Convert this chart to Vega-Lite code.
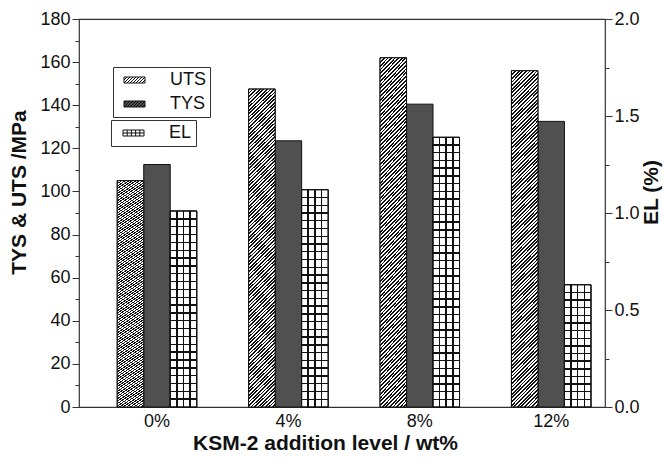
{
  "$schema": "https://vega.github.io/schema/vega-lite/v6.json",
  "width": 526,
  "height": 388,
  "autosize": {"type": "none"},
  "padding": {"left": 79, "top": 19, "right": 60, "bottom": 51},
  "background": "white",
  "config": {
    "font": "Liberation Sans",
    "view": {"stroke": "#333333", "strokeWidth": 1.2},
    "axis": {"labelFont": "Liberation Sans", "labelFontSize": 18, "labelColor": "#111111", "titleFont": "Liberation Sans", "titleFontSize": 21, "titleFontWeight": "bold", "titleColor": "#111111", "domainColor": "#333333", "tickColor": "#333333", "grid": false},
    "legend": {"labelFont": "Liberation Sans", "labelFontSize": 18, "labelColor": "#111111"}
  },
  "data": {
    "values": [
      {"level": "0%", "series": "UTS", "value": 105},
      {"level": "0%", "series": "TYS", "value": 112.5},
      {"level": "0%", "series": "EL", "value": 1.01},
      {"level": "4%", "series": "UTS", "value": 147.5},
      {"level": "4%", "series": "TYS", "value": 123.5},
      {"level": "4%", "series": "EL", "value": 1.12},
      {"level": "8%", "series": "UTS", "value": 162},
      {"level": "8%", "series": "TYS", "value": 140.5},
      {"level": "8%", "series": "EL", "value": 1.39},
      {"level": "12%", "series": "UTS", "value": 156},
      {"level": "12%", "series": "TYS", "value": 132.5},
      {"level": "12%", "series": "EL", "value": 0.63}
    ]
  },
  "encoding": {
    "x": {
      "field": "level", "type": "nominal", "sort": ["0%", "4%", "8%", "12%"],
      "scale": {"paddingInner": 0.395, "paddingOuter": 0.199, "align": 0.731},
      "axis": {"title": "KSM-2 addition level / wt%", "labelAngle": 0, "ticks": false, "labelPadding": 5, "titlePadding": 2, "titleX": 246, "domain": false}
    },
    "xOffset": {"field": "series", "type": "nominal", "scale": {"domain": ["UTS", "TYS", "EL"], "paddingInner": 0, "paddingOuter": 0}}
  },
  "layer": [
    {
      "encoding": {
        "y": {
          "field": "value", "type": "quantitative",
          "scale": {"domain": [0, 180], "nice": false},
          "axis": {
            "title": "TYS & UTS /MPa", "orient": "left",
            "values": [0, 10, 20, 30, 40, 50, 60, 70, 80, 90, 100, 110, 120, 130, 140, 150, 160, 170, 180],
            "labelExpr": "datum.value % 20 === 0 ? datum.label : ''",
            "tickSize": {"condition": {"test": "datum.value % 20 !== 0", "value": 4}, "value": 7},
            "labelPadding": 2, "titlePadding": 10, "titleY": 173, "domain": false
          }
        }
      },
      "layer": [
        {
          "transform": [{"filter": "datum.series !== 'EL'"}],
          "mark": {"type": "bar", "stroke": "#111111", "strokeWidth": 1},
          "encoding": {
            "fill": {
              "field": "series", "type": "nominal",
              "scale": {"domain": ["UTS", "TYS"], "range": ["#ffffff", "#505050"]},
              "legend": {
                "title": null, "orient": "none", "legendX": 34, "legendY": 48, "padding": 4, "symbolOffset": 1, "rowPadding": 6,
                "strokeColor": "#333333", "fillColor": "white",
                "symbolType": "M-0.5,-0.5H3V0.5H-0.5Z M-0.5,0L0,-0.5 M-0.5,0.5L0.5,-0.5 M0,0.5L1,-0.5 M0.5,0.5L1.5,-0.5 M1,0.5L2,-0.5 M1.5,0.5L2.5,-0.5 M2,0.5L3,-0.5 M2.5,0.5L3,0",
                "symbolSize": 144, "symbolStrokeColor": "#111111", "symbolStrokeWidth": 1, "symbolOpacity": 1,
                "labelOffset": 34, "labelExpr": "datum.label + '   '"
              }
            }
          }
        },
        {
          "transform": [{"filter": "datum.series === 'UTS'"}],
          "mark": {
            "type": "bar", "stroke": "#111111", "strokeWidth": 1,
            "fill": {
              "gradient": "linear", "x1": 0, "y1": 0, "x2": 0.086, "y2": 1.073,
              "stops": [
{"offset":0,"color":"#111"},{"offset":0.005,"color":"#111"},{"offset":0.005,"color":"#fff"},{"offset":0.01,"color":"#fff"},
{"offset":0.01,"color":"#111"},{"offset":0.015,"color":"#111"},{"offset":0.015,"color":"#fff"},{"offset":0.02,"color":"#fff"},
{"offset":0.02,"color":"#111"},{"offset":0.025,"color":"#111"},{"offset":0.025,"color":"#fff"},{"offset":0.03,"color":"#fff"},
{"offset":0.03,"color":"#111"},{"offset":0.035,"color":"#111"},{"offset":0.035,"color":"#fff"},{"offset":0.04,"color":"#fff"},
{"offset":0.04,"color":"#111"},{"offset":0.045,"color":"#111"},{"offset":0.045,"color":"#fff"},{"offset":0.05,"color":"#fff"},
{"offset":0.05,"color":"#111"},{"offset":0.055,"color":"#111"},{"offset":0.055,"color":"#fff"},{"offset":0.06,"color":"#fff"},
{"offset":0.06,"color":"#111"},{"offset":0.065,"color":"#111"},{"offset":0.065,"color":"#fff"},{"offset":0.07,"color":"#fff"},
{"offset":0.07,"color":"#111"},{"offset":0.075,"color":"#111"},{"offset":0.075,"color":"#fff"},{"offset":0.08,"color":"#fff"},
{"offset":0.08,"color":"#111"},{"offset":0.085,"color":"#111"},{"offset":0.085,"color":"#fff"},{"offset":0.09,"color":"#fff"},
{"offset":0.09,"color":"#111"},{"offset":0.095,"color":"#111"},{"offset":0.095,"color":"#fff"},{"offset":0.1,"color":"#fff"},
{"offset":0.1,"color":"#111"},{"offset":0.105,"color":"#111"},{"offset":0.105,"color":"#fff"},{"offset":0.11,"color":"#fff"},
{"offset":0.11,"color":"#111"},{"offset":0.115,"color":"#111"},{"offset":0.115,"color":"#fff"},{"offset":0.12,"color":"#fff"},
{"offset":0.12,"color":"#111"},{"offset":0.125,"color":"#111"},{"offset":0.125,"color":"#fff"},{"offset":0.13,"color":"#fff"},
{"offset":0.13,"color":"#111"},{"offset":0.135,"color":"#111"},{"offset":0.135,"color":"#fff"},{"offset":0.14,"color":"#fff"},
{"offset":0.14,"color":"#111"},{"offset":0.145,"color":"#111"},{"offset":0.145,"color":"#fff"},{"offset":0.15,"color":"#fff"},
{"offset":0.15,"color":"#111"},{"offset":0.155,"color":"#111"},{"offset":0.155,"color":"#fff"},{"offset":0.16,"color":"#fff"},
{"offset":0.16,"color":"#111"},{"offset":0.165,"color":"#111"},{"offset":0.165,"color":"#fff"},{"offset":0.17,"color":"#fff"},
{"offset":0.17,"color":"#111"},{"offset":0.175,"color":"#111"},{"offset":0.175,"color":"#fff"},{"offset":0.18,"color":"#fff"},
{"offset":0.18,"color":"#111"},{"offset":0.185,"color":"#111"},{"offset":0.185,"color":"#fff"},{"offset":0.19,"color":"#fff"},
{"offset":0.19,"color":"#111"},{"offset":0.195,"color":"#111"},{"offset":0.195,"color":"#fff"},{"offset":0.2,"color":"#fff"},
{"offset":0.2,"color":"#111"},{"offset":0.205,"color":"#111"},{"offset":0.205,"color":"#fff"},{"offset":0.21,"color":"#fff"},
{"offset":0.21,"color":"#111"},{"offset":0.215,"color":"#111"},{"offset":0.215,"color":"#fff"},{"offset":0.22,"color":"#fff"},
{"offset":0.22,"color":"#111"},{"offset":0.225,"color":"#111"},{"offset":0.225,"color":"#fff"},{"offset":0.23,"color":"#fff"},
{"offset":0.23,"color":"#111"},{"offset":0.235,"color":"#111"},{"offset":0.235,"color":"#fff"},{"offset":0.24,"color":"#fff"},
{"offset":0.24,"color":"#111"},{"offset":0.245,"color":"#111"},{"offset":0.245,"color":"#fff"},{"offset":0.25,"color":"#fff"},
{"offset":0.25,"color":"#111"},{"offset":0.255,"color":"#111"},{"offset":0.255,"color":"#fff"},{"offset":0.26,"color":"#fff"},
{"offset":0.26,"color":"#111"},{"offset":0.265,"color":"#111"},{"offset":0.265,"color":"#fff"},{"offset":0.27,"color":"#fff"},
{"offset":0.27,"color":"#111"},{"offset":0.275,"color":"#111"},{"offset":0.275,"color":"#fff"},{"offset":0.28,"color":"#fff"},
{"offset":0.28,"color":"#111"},{"offset":0.285,"color":"#111"},{"offset":0.285,"color":"#fff"},{"offset":0.29,"color":"#fff"},
{"offset":0.29,"color":"#111"},{"offset":0.295,"color":"#111"},{"offset":0.295,"color":"#fff"},{"offset":0.3,"color":"#fff"},
{"offset":0.3,"color":"#111"},{"offset":0.305,"color":"#111"},{"offset":0.305,"color":"#fff"},{"offset":0.31,"color":"#fff"},
{"offset":0.31,"color":"#111"},{"offset":0.315,"color":"#111"},{"offset":0.315,"color":"#fff"},{"offset":0.32,"color":"#fff"},
{"offset":0.32,"color":"#111"},{"offset":0.325,"color":"#111"},{"offset":0.325,"color":"#fff"},{"offset":0.33,"color":"#fff"},
{"offset":0.33,"color":"#111"},{"offset":0.335,"color":"#111"},{"offset":0.335,"color":"#fff"},{"offset":0.34,"color":"#fff"},
{"offset":0.34,"color":"#111"},{"offset":0.345,"color":"#111"},{"offset":0.345,"color":"#fff"},{"offset":0.35,"color":"#fff"},
{"offset":0.35,"color":"#111"},{"offset":0.355,"color":"#111"},{"offset":0.355,"color":"#fff"},{"offset":0.36,"color":"#fff"},
{"offset":0.36,"color":"#111"},{"offset":0.365,"color":"#111"},{"offset":0.365,"color":"#fff"},{"offset":0.37,"color":"#fff"},
{"offset":0.37,"color":"#111"},{"offset":0.375,"color":"#111"},{"offset":0.375,"color":"#fff"},{"offset":0.38,"color":"#fff"},
{"offset":0.38,"color":"#111"},{"offset":0.385,"color":"#111"},{"offset":0.385,"color":"#fff"},{"offset":0.39,"color":"#fff"},
{"offset":0.39,"color":"#111"},{"offset":0.395,"color":"#111"},{"offset":0.395,"color":"#fff"},{"offset":0.4,"color":"#fff"},
{"offset":0.4,"color":"#111"},{"offset":0.405,"color":"#111"},{"offset":0.405,"color":"#fff"},{"offset":0.41,"color":"#fff"},
{"offset":0.41,"color":"#111"},{"offset":0.415,"color":"#111"},{"offset":0.415,"color":"#fff"},{"offset":0.42,"color":"#fff"},
{"offset":0.42,"color":"#111"},{"offset":0.425,"color":"#111"},{"offset":0.425,"color":"#fff"},{"offset":0.43,"color":"#fff"},
{"offset":0.43,"color":"#111"},{"offset":0.435,"color":"#111"},{"offset":0.435,"color":"#fff"},{"offset":0.44,"color":"#fff"},
{"offset":0.44,"color":"#111"},{"offset":0.445,"color":"#111"},{"offset":0.445,"color":"#fff"},{"offset":0.45,"color":"#fff"},
{"offset":0.45,"color":"#111"},{"offset":0.455,"color":"#111"},{"offset":0.455,"color":"#fff"},{"offset":0.46,"color":"#fff"},
{"offset":0.46,"color":"#111"},{"offset":0.465,"color":"#111"},{"offset":0.465,"color":"#fff"},{"offset":0.47,"color":"#fff"},
{"offset":0.47,"color":"#111"},{"offset":0.475,"color":"#111"},{"offset":0.475,"color":"#fff"},{"offset":0.48,"color":"#fff"},
{"offset":0.48,"color":"#111"},{"offset":0.485,"color":"#111"},{"offset":0.485,"color":"#fff"},{"offset":0.49,"color":"#fff"},
{"offset":0.49,"color":"#111"},{"offset":0.495,"color":"#111"},{"offset":0.495,"color":"#fff"},{"offset":0.5,"color":"#fff"},
{"offset":0.5,"color":"#111"},{"offset":0.505,"color":"#111"},{"offset":0.505,"color":"#fff"},{"offset":0.51,"color":"#fff"},
{"offset":0.51,"color":"#111"},{"offset":0.515,"color":"#111"},{"offset":0.515,"color":"#fff"},{"offset":0.52,"color":"#fff"},
{"offset":0.52,"color":"#111"},{"offset":0.525,"color":"#111"},{"offset":0.525,"color":"#fff"},{"offset":0.53,"color":"#fff"},
{"offset":0.53,"color":"#111"},{"offset":0.535,"color":"#111"},{"offset":0.535,"color":"#fff"},{"offset":0.54,"color":"#fff"},
{"offset":0.54,"color":"#111"},{"offset":0.545,"color":"#111"},{"offset":0.545,"color":"#fff"},{"offset":0.55,"color":"#fff"},
{"offset":0.55,"color":"#111"},{"offset":0.555,"color":"#111"},{"offset":0.555,"color":"#fff"},{"offset":0.56,"color":"#fff"},
{"offset":0.56,"color":"#111"},{"offset":0.565,"color":"#111"},{"offset":0.565,"color":"#fff"},{"offset":0.57,"color":"#fff"},
{"offset":0.57,"color":"#111"},{"offset":0.575,"color":"#111"},{"offset":0.575,"color":"#fff"},{"offset":0.58,"color":"#fff"},
{"offset":0.58,"color":"#111"},{"offset":0.585,"color":"#111"},{"offset":0.585,"color":"#fff"},{"offset":0.59,"color":"#fff"},
{"offset":0.59,"color":"#111"},{"offset":0.595,"color":"#111"},{"offset":0.595,"color":"#fff"},{"offset":0.6,"color":"#fff"},
{"offset":0.6,"color":"#111"},{"offset":0.605,"color":"#111"},{"offset":0.605,"color":"#fff"},{"offset":0.61,"color":"#fff"},
{"offset":0.61,"color":"#111"},{"offset":0.615,"color":"#111"},{"offset":0.615,"color":"#fff"},{"offset":0.62,"color":"#fff"},
{"offset":0.62,"color":"#111"},{"offset":0.625,"color":"#111"},{"offset":0.625,"color":"#fff"},{"offset":0.63,"color":"#fff"},
{"offset":0.63,"color":"#111"},{"offset":0.635,"color":"#111"},{"offset":0.635,"color":"#fff"},{"offset":0.64,"color":"#fff"},
{"offset":0.64,"color":"#111"},{"offset":0.645,"color":"#111"},{"offset":0.645,"color":"#fff"},{"offset":0.65,"color":"#fff"},
{"offset":0.65,"color":"#111"},{"offset":0.655,"color":"#111"},{"offset":0.655,"color":"#fff"},{"offset":0.66,"color":"#fff"},
{"offset":0.66,"color":"#111"},{"offset":0.665,"color":"#111"},{"offset":0.665,"color":"#fff"},{"offset":0.67,"color":"#fff"},
{"offset":0.67,"color":"#111"},{"offset":0.675,"color":"#111"},{"offset":0.675,"color":"#fff"},{"offset":0.68,"color":"#fff"},
{"offset":0.68,"color":"#111"},{"offset":0.685,"color":"#111"},{"offset":0.685,"color":"#fff"},{"offset":0.69,"color":"#fff"},
{"offset":0.69,"color":"#111"},{"offset":0.695,"color":"#111"},{"offset":0.695,"color":"#fff"},{"offset":0.7,"color":"#fff"},
{"offset":0.7,"color":"#111"},{"offset":0.705,"color":"#111"},{"offset":0.705,"color":"#fff"},{"offset":0.71,"color":"#fff"},
{"offset":0.71,"color":"#111"},{"offset":0.715,"color":"#111"},{"offset":0.715,"color":"#fff"},{"offset":0.72,"color":"#fff"},
{"offset":0.72,"color":"#111"},{"offset":0.725,"color":"#111"},{"offset":0.725,"color":"#fff"},{"offset":0.73,"color":"#fff"},
{"offset":0.73,"color":"#111"},{"offset":0.735,"color":"#111"},{"offset":0.735,"color":"#fff"},{"offset":0.74,"color":"#fff"},
{"offset":0.74,"color":"#111"},{"offset":0.745,"color":"#111"},{"offset":0.745,"color":"#fff"},{"offset":0.75,"color":"#fff"},
{"offset":0.75,"color":"#111"},{"offset":0.755,"color":"#111"},{"offset":0.755,"color":"#fff"},{"offset":0.76,"color":"#fff"},
{"offset":0.76,"color":"#111"},{"offset":0.765,"color":"#111"},{"offset":0.765,"color":"#fff"},{"offset":0.77,"color":"#fff"},
{"offset":0.77,"color":"#111"},{"offset":0.775,"color":"#111"},{"offset":0.775,"color":"#fff"},{"offset":0.78,"color":"#fff"},
{"offset":0.78,"color":"#111"},{"offset":0.785,"color":"#111"},{"offset":0.785,"color":"#fff"},{"offset":0.79,"color":"#fff"},
{"offset":0.79,"color":"#111"},{"offset":0.795,"color":"#111"},{"offset":0.795,"color":"#fff"},{"offset":0.8,"color":"#fff"},
{"offset":0.8,"color":"#111"},{"offset":0.805,"color":"#111"},{"offset":0.805,"color":"#fff"},{"offset":0.81,"color":"#fff"},
{"offset":0.81,"color":"#111"},{"offset":0.815,"color":"#111"},{"offset":0.815,"color":"#fff"},{"offset":0.82,"color":"#fff"},
{"offset":0.82,"color":"#111"},{"offset":0.825,"color":"#111"},{"offset":0.825,"color":"#fff"},{"offset":0.83,"color":"#fff"},
{"offset":0.83,"color":"#111"},{"offset":0.835,"color":"#111"},{"offset":0.835,"color":"#fff"},{"offset":0.84,"color":"#fff"},
{"offset":0.84,"color":"#111"},{"offset":0.845,"color":"#111"},{"offset":0.845,"color":"#fff"},{"offset":0.85,"color":"#fff"},
{"offset":0.85,"color":"#111"},{"offset":0.855,"color":"#111"},{"offset":0.855,"color":"#fff"},{"offset":0.86,"color":"#fff"},
{"offset":0.86,"color":"#111"},{"offset":0.865,"color":"#111"},{"offset":0.865,"color":"#fff"},{"offset":0.87,"color":"#fff"},
{"offset":0.87,"color":"#111"},{"offset":0.875,"color":"#111"},{"offset":0.875,"color":"#fff"},{"offset":0.88,"color":"#fff"},
{"offset":0.88,"color":"#111"},{"offset":0.885,"color":"#111"},{"offset":0.885,"color":"#fff"},{"offset":0.89,"color":"#fff"},
{"offset":0.89,"color":"#111"},{"offset":0.895,"color":"#111"},{"offset":0.895,"color":"#fff"},{"offset":0.9,"color":"#fff"},
{"offset":0.9,"color":"#111"},{"offset":0.905,"color":"#111"},{"offset":0.905,"color":"#fff"},{"offset":0.91,"color":"#fff"},
{"offset":0.91,"color":"#111"},{"offset":0.915,"color":"#111"},{"offset":0.915,"color":"#fff"},{"offset":0.92,"color":"#fff"},
{"offset":0.92,"color":"#111"},{"offset":0.925,"color":"#111"},{"offset":0.925,"color":"#fff"},{"offset":0.93,"color":"#fff"},
{"offset":0.93,"color":"#111"},{"offset":0.935,"color":"#111"},{"offset":0.935,"color":"#fff"},{"offset":0.94,"color":"#fff"},
{"offset":0.94,"color":"#111"},{"offset":0.945,"color":"#111"},{"offset":0.945,"color":"#fff"},{"offset":0.95,"color":"#fff"},
{"offset":0.95,"color":"#111"},{"offset":0.955,"color":"#111"},{"offset":0.955,"color":"#fff"},{"offset":0.96,"color":"#fff"},
{"offset":0.96,"color":"#111"},{"offset":0.965,"color":"#111"},{"offset":0.965,"color":"#fff"},{"offset":0.97,"color":"#fff"},
{"offset":0.97,"color":"#111"},{"offset":0.975,"color":"#111"},{"offset":0.975,"color":"#fff"},{"offset":0.98,"color":"#fff"},
{"offset":0.98,"color":"#111"},{"offset":0.985,"color":"#111"},{"offset":0.985,"color":"#fff"},{"offset":0.99,"color":"#fff"},
{"offset":0.99,"color":"#111"},{"offset":0.995,"color":"#111"},{"offset":0.995,"color":"#fff"},{"offset":1,"color":"#fff"}
              ]
            }
          }
        }
      ]
    },
    {
      "encoding": {
        "y": {
          "field": "value", "type": "quantitative",
          "scale": {"domain": [0, 2], "nice": false},
          "axis": {
            "title": "EL (%)", "orient": "right",
            "values": [0, 0.25, 0.5, 0.75, 1, 1.25, 1.5, 1.75, 2],
            "format": ".1f",
            "labelExpr": "datum.value % 0.5 === 0 ? datum.label : ''",
            "tickSize": {"condition": {"test": "datum.value % 0.5 !== 0", "value": 4}, "value": 7},
            "labelPadding": 2, "titlePadding": 1, "titleAngle": 270, "titleBaseline": "top", "titleY": 173, "domain": false
          }
        }
      },
      "layer": [
        {
          "transform": [{"filter": "datum.series === 'EL'"}],
          "mark": {"type": "bar", "stroke": "#111111", "strokeWidth": 1},
          "encoding": {
            "fill": {
              "field": "series", "type": "nominal",
              "scale": {"domain": ["EL"], "range": ["#ffffff"]},
              "legend": {
                "title": null, "orient": "none", "legendX": 32, "legendY": 101, "padding": 4, "symbolOffset": 2,
                "strokeColor": "#333333", "fillColor": "white",
                "symbolType": "M-0.5,-0.5H3V0.5H-0.5Z M0.2,-0.5V0.5 M0.9,-0.5V0.5 M1.6,-0.5V0.5 M2.3,-0.5V0.5 M-0.5,0H3",
                "symbolSize": 144, "symbolStrokeColor": "#111111", "symbolStrokeWidth": 1, "symbolOpacity": 1,
                "labelOffset": 34, "labelExpr": "datum.label + '     '"
              }
            }
          }
        },
        {
          "transform": [{"filter": "datum.series === 'EL'"}],
          "mark": {
            "type": "bar", "stroke": "#111111", "strokeWidth": 1,
            "fill": {
              "gradient": "linear", "x1": 0, "y1": 0, "x2": 1, "y2": 0,
              "stops": [
                {"offset":0,"color":"#fff"},{"offset":0.22,"color":"#fff"},{"offset":0.22,"color":"#111"},{"offset":0.28,"color":"#111"},
                {"offset":0.28,"color":"#fff"},{"offset":0.47,"color":"#fff"},{"offset":0.47,"color":"#111"},{"offset":0.53,"color":"#111"},
                {"offset":0.53,"color":"#fff"},{"offset":0.72,"color":"#fff"},{"offset":0.72,"color":"#111"},{"offset":0.78,"color":"#111"},
                {"offset":0.78,"color":"#fff"},{"offset":1,"color":"#fff"}
              ]
            }
          }
        },
        {
          "transform": [{"filter": "datum.series === 'EL' && datum.level === '0%'"}],
          "mark": {
            "type": "bar", "stroke": "#111111", "strokeWidth": 1,
            "fill": {
              "gradient": "linear", "x1": 0, "y1": 0, "x2": 0, "y2": 1,
              "stops": [
{"offset":0.0364,"color":"transparent"},{"offset":0.0364,"color":"#111"},{"offset":0.0436,"color":"#111"},{"offset":0.0436,"color":"transparent"},
{"offset":0.0764,"color":"transparent"},{"offset":0.0764,"color":"#111"},{"offset":0.0836,"color":"#111"},{"offset":0.0836,"color":"transparent"},
{"offset":0.1164,"color":"transparent"},{"offset":0.1164,"color":"#111"},{"offset":0.1236,"color":"#111"},{"offset":0.1236,"color":"transparent"},
{"offset":0.1564,"color":"transparent"},{"offset":0.1564,"color":"#111"},{"offset":0.1636,"color":"#111"},{"offset":0.1636,"color":"transparent"},
{"offset":0.1964,"color":"transparent"},{"offset":0.1964,"color":"#111"},{"offset":0.2036,"color":"#111"},{"offset":0.2036,"color":"transparent"},
{"offset":0.2364,"color":"transparent"},{"offset":0.2364,"color":"#111"},{"offset":0.2436,"color":"#111"},{"offset":0.2436,"color":"transparent"},
{"offset":0.2764,"color":"transparent"},{"offset":0.2764,"color":"#111"},{"offset":0.2836,"color":"#111"},{"offset":0.2836,"color":"transparent"},
{"offset":0.3164,"color":"transparent"},{"offset":0.3164,"color":"#111"},{"offset":0.3236,"color":"#111"},{"offset":0.3236,"color":"transparent"},
{"offset":0.3564,"color":"transparent"},{"offset":0.3564,"color":"#111"},{"offset":0.3636,"color":"#111"},{"offset":0.3636,"color":"transparent"},
{"offset":0.3964,"color":"transparent"},{"offset":0.3964,"color":"#111"},{"offset":0.4036,"color":"#111"},{"offset":0.4036,"color":"transparent"},
{"offset":0.4364,"color":"transparent"},{"offset":0.4364,"color":"#111"},{"offset":0.4436,"color":"#111"},{"offset":0.4436,"color":"transparent"},
{"offset":0.4764,"color":"transparent"},{"offset":0.4764,"color":"#111"},{"offset":0.4836,"color":"#111"},{"offset":0.4836,"color":"transparent"},
{"offset":0.5164,"color":"transparent"},{"offset":0.5164,"color":"#111"},{"offset":0.5236,"color":"#111"},{"offset":0.5236,"color":"transparent"},
{"offset":0.5564,"color":"transparent"},{"offset":0.5564,"color":"#111"},{"offset":0.5636,"color":"#111"},{"offset":0.5636,"color":"transparent"},
{"offset":0.5964,"color":"transparent"},{"offset":0.5964,"color":"#111"},{"offset":0.6036,"color":"#111"},{"offset":0.6036,"color":"transparent"},
{"offset":0.6364,"color":"transparent"},{"offset":0.6364,"color":"#111"},{"offset":0.6436,"color":"#111"},{"offset":0.6436,"color":"transparent"},
{"offset":0.6764,"color":"transparent"},{"offset":0.6764,"color":"#111"},{"offset":0.6836,"color":"#111"},{"offset":0.6836,"color":"transparent"},
{"offset":0.7164,"color":"transparent"},{"offset":0.7164,"color":"#111"},{"offset":0.7236,"color":"#111"},{"offset":0.7236,"color":"transparent"},
{"offset":0.7564,"color":"transparent"},{"offset":0.7564,"color":"#111"},{"offset":0.7636,"color":"#111"},{"offset":0.7636,"color":"transparent"},
{"offset":0.7964,"color":"transparent"},{"offset":0.7964,"color":"#111"},{"offset":0.8036,"color":"#111"},{"offset":0.8036,"color":"transparent"},
{"offset":0.8364,"color":"transparent"},{"offset":0.8364,"color":"#111"},{"offset":0.8436,"color":"#111"},{"offset":0.8436,"color":"transparent"},
{"offset":0.8764,"color":"transparent"},{"offset":0.8764,"color":"#111"},{"offset":0.8836,"color":"#111"},{"offset":0.8836,"color":"transparent"},
{"offset":0.9164,"color":"transparent"},{"offset":0.9164,"color":"#111"},{"offset":0.9236,"color":"#111"},{"offset":0.9236,"color":"transparent"},
{"offset":0.9564,"color":"transparent"},{"offset":0.9564,"color":"#111"},{"offset":0.9636,"color":"#111"},{"offset":0.9636,"color":"transparent"}
              ]
            }
          }
        },
        {
          "transform": [{"filter": "datum.series === 'EL' && datum.level === '4%'"}],
          "mark": {
            "type": "bar", "stroke": "#111111", "strokeWidth": 1,
            "fill": {
              "gradient": "linear", "x1": 0, "y1": 0, "x2": 0, "y2": 1,
              "stops": [
{"offset":0.0325,"color":"transparent"},{"offset":0.0325,"color":"#111"},{"offset":0.0389,"color":"#111"},{"offset":0.0389,"color":"transparent"},
{"offset":0.0682,"color":"transparent"},{"offset":0.0682,"color":"#111"},{"offset":0.0746,"color":"#111"},{"offset":0.0746,"color":"transparent"},
{"offset":0.1039,"color":"transparent"},{"offset":0.1039,"color":"#111"},{"offset":0.1103,"color":"#111"},{"offset":0.1103,"color":"transparent"},
{"offset":0.1397,"color":"transparent"},{"offset":0.1397,"color":"#111"},{"offset":0.1461,"color":"#111"},{"offset":0.1461,"color":"transparent"},
{"offset":0.1754,"color":"transparent"},{"offset":0.1754,"color":"#111"},{"offset":0.1818,"color":"#111"},{"offset":0.1818,"color":"transparent"},
{"offset":0.2111,"color":"transparent"},{"offset":0.2111,"color":"#111"},{"offset":0.2175,"color":"#111"},{"offset":0.2175,"color":"transparent"},
{"offset":0.2468,"color":"transparent"},{"offset":0.2468,"color":"#111"},{"offset":0.2532,"color":"#111"},{"offset":0.2532,"color":"transparent"},
{"offset":0.2825,"color":"transparent"},{"offset":0.2825,"color":"#111"},{"offset":0.2889,"color":"#111"},{"offset":0.2889,"color":"transparent"},
{"offset":0.3182,"color":"transparent"},{"offset":0.3182,"color":"#111"},{"offset":0.3246,"color":"#111"},{"offset":0.3246,"color":"transparent"},
{"offset":0.3539,"color":"transparent"},{"offset":0.3539,"color":"#111"},{"offset":0.3603,"color":"#111"},{"offset":0.3603,"color":"transparent"},
{"offset":0.3897,"color":"transparent"},{"offset":0.3897,"color":"#111"},{"offset":0.3961,"color":"#111"},{"offset":0.3961,"color":"transparent"},
{"offset":0.4254,"color":"transparent"},{"offset":0.4254,"color":"#111"},{"offset":0.4318,"color":"#111"},{"offset":0.4318,"color":"transparent"},
{"offset":0.4611,"color":"transparent"},{"offset":0.4611,"color":"#111"},{"offset":0.4675,"color":"#111"},{"offset":0.4675,"color":"transparent"},
{"offset":0.4968,"color":"transparent"},{"offset":0.4968,"color":"#111"},{"offset":0.5032,"color":"#111"},{"offset":0.5032,"color":"transparent"},
{"offset":0.5325,"color":"transparent"},{"offset":0.5325,"color":"#111"},{"offset":0.5389,"color":"#111"},{"offset":0.5389,"color":"transparent"},
{"offset":0.5682,"color":"transparent"},{"offset":0.5682,"color":"#111"},{"offset":0.5746,"color":"#111"},{"offset":0.5746,"color":"transparent"},
{"offset":0.6039,"color":"transparent"},{"offset":0.6039,"color":"#111"},{"offset":0.6103,"color":"#111"},{"offset":0.6103,"color":"transparent"},
{"offset":0.6397,"color":"transparent"},{"offset":0.6397,"color":"#111"},{"offset":0.6461,"color":"#111"},{"offset":0.6461,"color":"transparent"},
{"offset":0.6754,"color":"transparent"},{"offset":0.6754,"color":"#111"},{"offset":0.6818,"color":"#111"},{"offset":0.6818,"color":"transparent"},
{"offset":0.7111,"color":"transparent"},{"offset":0.7111,"color":"#111"},{"offset":0.7175,"color":"#111"},{"offset":0.7175,"color":"transparent"},
{"offset":0.7468,"color":"transparent"},{"offset":0.7468,"color":"#111"},{"offset":0.7532,"color":"#111"},{"offset":0.7532,"color":"transparent"},
{"offset":0.7825,"color":"transparent"},{"offset":0.7825,"color":"#111"},{"offset":0.7889,"color":"#111"},{"offset":0.7889,"color":"transparent"},
{"offset":0.8182,"color":"transparent"},{"offset":0.8182,"color":"#111"},{"offset":0.8246,"color":"#111"},{"offset":0.8246,"color":"transparent"},
{"offset":0.8539,"color":"transparent"},{"offset":0.8539,"color":"#111"},{"offset":0.8603,"color":"#111"},{"offset":0.8603,"color":"transparent"},
{"offset":0.8897,"color":"transparent"},{"offset":0.8897,"color":"#111"},{"offset":0.8961,"color":"#111"},{"offset":0.8961,"color":"transparent"},
{"offset":0.9254,"color":"transparent"},{"offset":0.9254,"color":"#111"},{"offset":0.9318,"color":"#111"},{"offset":0.9318,"color":"transparent"},
{"offset":0.9611,"color":"transparent"},{"offset":0.9611,"color":"#111"},{"offset":0.9675,"color":"#111"},{"offset":0.9675,"color":"transparent"}
              ]
            }
          }
        },
        {
          "transform": [{"filter": "datum.series === 'EL' && datum.level === '8%'"}],
          "mark": {
            "type": "bar", "stroke": "#111111", "strokeWidth": 1,
            "fill": {
              "gradient": "linear", "x1": 0, "y1": 0, "x2": 0, "y2": 1,
              "stops": [
{"offset":0.026,"color":"transparent"},{"offset":0.026,"color":"#111"},{"offset":0.0312,"color":"#111"},{"offset":0.0312,"color":"transparent"},
{"offset":0.0545,"color":"transparent"},{"offset":0.0545,"color":"#111"},{"offset":0.0597,"color":"#111"},{"offset":0.0597,"color":"transparent"},
{"offset":0.0831,"color":"transparent"},{"offset":0.0831,"color":"#111"},{"offset":0.0883,"color":"#111"},{"offset":0.0883,"color":"transparent"},
{"offset":0.1117,"color":"transparent"},{"offset":0.1117,"color":"#111"},{"offset":0.1169,"color":"#111"},{"offset":0.1169,"color":"transparent"},
{"offset":0.1403,"color":"transparent"},{"offset":0.1403,"color":"#111"},{"offset":0.1455,"color":"#111"},{"offset":0.1455,"color":"transparent"},
{"offset":0.1688,"color":"transparent"},{"offset":0.1688,"color":"#111"},{"offset":0.174,"color":"#111"},{"offset":0.174,"color":"transparent"},
{"offset":0.1974,"color":"transparent"},{"offset":0.1974,"color":"#111"},{"offset":0.2026,"color":"#111"},{"offset":0.2026,"color":"transparent"},
{"offset":0.226,"color":"transparent"},{"offset":0.226,"color":"#111"},{"offset":0.2312,"color":"#111"},{"offset":0.2312,"color":"transparent"},
{"offset":0.2545,"color":"transparent"},{"offset":0.2545,"color":"#111"},{"offset":0.2597,"color":"#111"},{"offset":0.2597,"color":"transparent"},
{"offset":0.2831,"color":"transparent"},{"offset":0.2831,"color":"#111"},{"offset":0.2883,"color":"#111"},{"offset":0.2883,"color":"transparent"},
{"offset":0.3117,"color":"transparent"},{"offset":0.3117,"color":"#111"},{"offset":0.3169,"color":"#111"},{"offset":0.3169,"color":"transparent"},
{"offset":0.3403,"color":"transparent"},{"offset":0.3403,"color":"#111"},{"offset":0.3455,"color":"#111"},{"offset":0.3455,"color":"transparent"},
{"offset":0.3688,"color":"transparent"},{"offset":0.3688,"color":"#111"},{"offset":0.374,"color":"#111"},{"offset":0.374,"color":"transparent"},
{"offset":0.3974,"color":"transparent"},{"offset":0.3974,"color":"#111"},{"offset":0.4026,"color":"#111"},{"offset":0.4026,"color":"transparent"},
{"offset":0.426,"color":"transparent"},{"offset":0.426,"color":"#111"},{"offset":0.4312,"color":"#111"},{"offset":0.4312,"color":"transparent"},
{"offset":0.4545,"color":"transparent"},{"offset":0.4545,"color":"#111"},{"offset":0.4597,"color":"#111"},{"offset":0.4597,"color":"transparent"},
{"offset":0.4831,"color":"transparent"},{"offset":0.4831,"color":"#111"},{"offset":0.4883,"color":"#111"},{"offset":0.4883,"color":"transparent"},
{"offset":0.5117,"color":"transparent"},{"offset":0.5117,"color":"#111"},{"offset":0.5169,"color":"#111"},{"offset":0.5169,"color":"transparent"},
{"offset":0.5403,"color":"transparent"},{"offset":0.5403,"color":"#111"},{"offset":0.5455,"color":"#111"},{"offset":0.5455,"color":"transparent"},
{"offset":0.5688,"color":"transparent"},{"offset":0.5688,"color":"#111"},{"offset":0.574,"color":"#111"},{"offset":0.574,"color":"transparent"},
{"offset":0.5974,"color":"transparent"},{"offset":0.5974,"color":"#111"},{"offset":0.6026,"color":"#111"},{"offset":0.6026,"color":"transparent"},
{"offset":0.626,"color":"transparent"},{"offset":0.626,"color":"#111"},{"offset":0.6312,"color":"#111"},{"offset":0.6312,"color":"transparent"},
{"offset":0.6545,"color":"transparent"},{"offset":0.6545,"color":"#111"},{"offset":0.6597,"color":"#111"},{"offset":0.6597,"color":"transparent"},
{"offset":0.6831,"color":"transparent"},{"offset":0.6831,"color":"#111"},{"offset":0.6883,"color":"#111"},{"offset":0.6883,"color":"transparent"},
{"offset":0.7117,"color":"transparent"},{"offset":0.7117,"color":"#111"},{"offset":0.7169,"color":"#111"},{"offset":0.7169,"color":"transparent"},
{"offset":0.7403,"color":"transparent"},{"offset":0.7403,"color":"#111"},{"offset":0.7455,"color":"#111"},{"offset":0.7455,"color":"transparent"},
{"offset":0.7688,"color":"transparent"},{"offset":0.7688,"color":"#111"},{"offset":0.774,"color":"#111"},{"offset":0.774,"color":"transparent"},
{"offset":0.7974,"color":"transparent"},{"offset":0.7974,"color":"#111"},{"offset":0.8026,"color":"#111"},{"offset":0.8026,"color":"transparent"},
{"offset":0.826,"color":"transparent"},{"offset":0.826,"color":"#111"},{"offset":0.8312,"color":"#111"},{"offset":0.8312,"color":"transparent"},
{"offset":0.8545,"color":"transparent"},{"offset":0.8545,"color":"#111"},{"offset":0.8597,"color":"#111"},{"offset":0.8597,"color":"transparent"},
{"offset":0.8831,"color":"transparent"},{"offset":0.8831,"color":"#111"},{"offset":0.8883,"color":"#111"},{"offset":0.8883,"color":"transparent"},
{"offset":0.9117,"color":"transparent"},{"offset":0.9117,"color":"#111"},{"offset":0.9169,"color":"#111"},{"offset":0.9169,"color":"transparent"},
{"offset":0.9403,"color":"transparent"},{"offset":0.9403,"color":"#111"},{"offset":0.9455,"color":"#111"},{"offset":0.9455,"color":"transparent"},
{"offset":0.9688,"color":"transparent"},{"offset":0.9688,"color":"#111"},{"offset":0.974,"color":"#111"},{"offset":0.974,"color":"transparent"}
              ]
            }
          }
        },
        {
          "transform": [{"filter": "datum.series === 'EL' && datum.level === '12%'"}],
          "mark": {
            "type": "bar", "stroke": "#111111", "strokeWidth": 1,
            "fill": {
              "gradient": "linear", "x1": 0, "y1": 0, "x2": 0, "y2": 1,
              "stops": [
{"offset":0.0568,"color":"transparent"},{"offset":0.0568,"color":"#111"},{"offset":0.0682,"color":"#111"},{"offset":0.0682,"color":"transparent"},
{"offset":0.1193,"color":"transparent"},{"offset":0.1193,"color":"#111"},{"offset":0.1307,"color":"#111"},{"offset":0.1307,"color":"transparent"},
{"offset":0.1818,"color":"transparent"},{"offset":0.1818,"color":"#111"},{"offset":0.1932,"color":"#111"},{"offset":0.1932,"color":"transparent"},
{"offset":0.2443,"color":"transparent"},{"offset":0.2443,"color":"#111"},{"offset":0.2557,"color":"#111"},{"offset":0.2557,"color":"transparent"},
{"offset":0.3068,"color":"transparent"},{"offset":0.3068,"color":"#111"},{"offset":0.3182,"color":"#111"},{"offset":0.3182,"color":"transparent"},
{"offset":0.3693,"color":"transparent"},{"offset":0.3693,"color":"#111"},{"offset":0.3807,"color":"#111"},{"offset":0.3807,"color":"transparent"},
{"offset":0.4318,"color":"transparent"},{"offset":0.4318,"color":"#111"},{"offset":0.4432,"color":"#111"},{"offset":0.4432,"color":"transparent"},
{"offset":0.4943,"color":"transparent"},{"offset":0.4943,"color":"#111"},{"offset":0.5057,"color":"#111"},{"offset":0.5057,"color":"transparent"},
{"offset":0.5568,"color":"transparent"},{"offset":0.5568,"color":"#111"},{"offset":0.5682,"color":"#111"},{"offset":0.5682,"color":"transparent"},
{"offset":0.6193,"color":"transparent"},{"offset":0.6193,"color":"#111"},{"offset":0.6307,"color":"#111"},{"offset":0.6307,"color":"transparent"},
{"offset":0.6818,"color":"transparent"},{"offset":0.6818,"color":"#111"},{"offset":0.6932,"color":"#111"},{"offset":0.6932,"color":"transparent"},
{"offset":0.7443,"color":"transparent"},{"offset":0.7443,"color":"#111"},{"offset":0.7557,"color":"#111"},{"offset":0.7557,"color":"transparent"},
{"offset":0.8068,"color":"transparent"},{"offset":0.8068,"color":"#111"},{"offset":0.8182,"color":"#111"},{"offset":0.8182,"color":"transparent"},
{"offset":0.8693,"color":"transparent"},{"offset":0.8693,"color":"#111"},{"offset":0.8807,"color":"#111"},{"offset":0.8807,"color":"transparent"},
{"offset":0.9318,"color":"transparent"},{"offset":0.9318,"color":"#111"},{"offset":0.9432,"color":"#111"},{"offset":0.9432,"color":"transparent"}
              ]
            }
          }
        }
      ]
    }
  ],
  "resolve": {"scale": {"y": "independent", "fill": "independent"}}
}
